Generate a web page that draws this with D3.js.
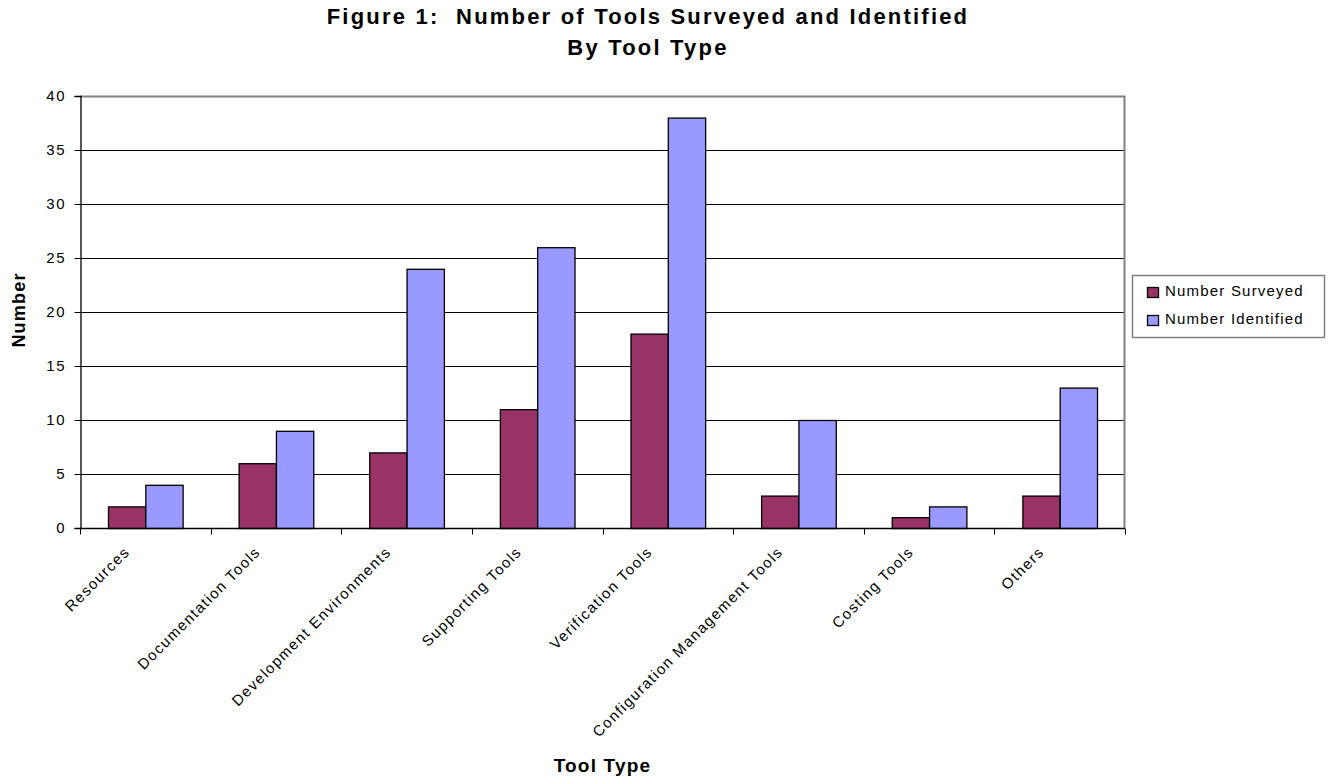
<!DOCTYPE html>
<html>
<head>
<meta charset="utf-8">
<script src="https://cdn.jsdelivr.net/npm/d3@7"></script>
<style>
  html, body { margin: 0; padding: 0; background: #fff; }
  svg { display: block; font-family: "Liberation Sans", Arial, sans-serif; }
</style>
</head>
<body>
<svg id="chart" width="1331" height="778"></svg>
<script>
const categories = ["Resources", "Documentation Tools", "Development Environments", "Supporting Tools",
  "Verification Tools", "Configuration Management Tools", "Costing Tools", "Others"];
const seriesNames = ["Number Surveyed", "Number Identified"];
const surveyed = [2, 6, 7, 11, 18, 3, 1, 3];
const identified = [4, 9, 24, 26, 38, 10, 2, 13];
const yTicks = [0, 5, 10, 15, 20, 25, 30, 35, 40];
const titleLines = ["Figure 1:  Number of Tools Surveyed and Identified", "By Tool Type"];
const colors = ["#993366", "#9999FF"];

const svg = d3.select("#chart");
const L = 80, R = 1125, T = 96, B = 528;

const x0 = d3.scaleBand().domain(categories).range([L, R]).padding(0);
const W = x0.bandwidth();
const bw = W / 3.5;
const x1 = d3.scaleBand().domain(seriesNames).range([W * 0.75 / 3.5, W * 0.75 / 3.5 + 2 * bw]).padding(0);
const y = d3.scaleLinear().domain([0, 40]).range([B, T]);

// gridlines
svg.append("g").selectAll("line").data(yTicks.filter(d => d > 0 && d < 40)).join("line")
  .attr("x1", L).attr("x2", R).attr("y1", d => Math.round(y(d)) + 0.5).attr("y2", d => Math.round(y(d)) + 0.5)
  .attr("stroke", "#000").attr("stroke-width", 1);

// plot frame top/right gray
svg.append("path")
  .attr("d", `M${L},${T + 0.5}H${R - 0.5}V${B}`)
  .attr("fill", "none").attr("stroke", "#808080").attr("stroke-width", 2);

// bars
const data = categories.map((c, i) => ({ c, vals: [surveyed[i], identified[i]] }));
const groups = svg.append("g").selectAll("g").data(data).join("g")
  .attr("transform", d => `translate(${x0(d.c)},0)`);
groups.selectAll("rect").data(d => d.vals.map((v, j) => ({ v, s: seriesNames[j], j }))).join("rect")
  .attr("x", d => x1(d.s) + 0.5)
  .attr("y", d => y(d.v) + 0.5)
  .attr("width", x1.bandwidth())
  .attr("height", d => y(0) - y(d.v))
  .attr("fill", d => colors[d.j])
  .attr("stroke", "#000").attr("stroke-width", 1.3);

// y axis
const yAxis = d3.axisLeft(y).tickValues(yTicks).tickSize(6).tickPadding(8).tickFormat(d3.format("d"));
const gy = svg.append("g").attr("transform", `translate(${L + 0.5},0)`).call(yAxis);
gy.select(".domain").attr("stroke", "#000").attr("stroke-width", 1.3);
gy.selectAll(".tick line").attr("stroke", "#000");
gy.selectAll(".tick text").attr("font-size", 15).attr("fill", "#000")
  .attr("font-family", "Liberation Sans, Arial, sans-serif").attr("letter-spacing", 1.8);

// x axis
const gx = svg.append("g").attr("transform", `translate(0,${B + 0.5})`);
gx.append("line").attr("x1", L).attr("x2", R).attr("stroke", "#000").attr("stroke-width", 1.3);
const bounds = categories.map(c => x0(c)).concat([R]);
gx.selectAll("line.tk").data(bounds).join("line").attr("class", "tk")
  .attr("x1", d => Math.round(d) + 0.5).attr("x2", d => Math.round(d) + 0.5)
  .attr("y1", 0).attr("y2", 6).attr("stroke", "#000");
gx.selectAll("text").data(categories).join("text")
  .attr("transform", d => `translate(${x0(d) + W / 2 - 22},${17}) rotate(-45)`)
  .attr("text-anchor", "end")
  .attr("dy", "0.7em")
  .attr("font-size", 15).attr("letter-spacing", 1.4).attr("fill", "#000")
  .text(d => d);

// axis titles
svg.append("text").attr("x", (L + R) / 2).attr("y", 772).attr("text-anchor", "middle")
  .attr("font-size", 19).attr("font-weight", "bold").attr("letter-spacing", 1.2).text("Tool Type");
svg.append("text").attr("transform", `translate(25,${310}) rotate(-90)`).attr("text-anchor", "middle")
  .attr("font-size", 18).attr("font-weight", "bold").attr("letter-spacing", 1.2).text("Number");

// title
svg.append("g").selectAll("text").data(titleLines).join("text")
  .attr("x", 648).attr("y", (d, i) => 24 + i * 31).attr("text-anchor", "middle")
  .attr("font-size", 22).attr("font-weight", "bold").attr("letter-spacing", 2.2)
  .style("white-space", "pre").attr("xml:space", "preserve")
  .text(d => d);

// legend
const lg = svg.append("g");
lg.append("rect").attr("x", 1132.5).attr("y", 275.5).attr("width", 192).attr("height", 62)
  .attr("fill", "#fff").attr("stroke", "#808080").attr("stroke-width", 1.5);
const li = lg.selectAll("g").data(seriesNames).join("g")
  .attr("transform", (d, i) => `translate(1147,${287 + i * 28})`);
li.append("rect").attr("x", 0.5).attr("y", 0.5).attr("width", 11).attr("height", 10)
  .attr("fill", (d, i) => colors[i]).attr("stroke", "#000").attr("stroke-width", 1.3);
li.append("text").attr("x", 18).attr("y", 9).attr("font-size", 15).attr("letter-spacing", 1.2)
  .attr("fill", "#000").text(d => d);
</script>
</body>
</html>
